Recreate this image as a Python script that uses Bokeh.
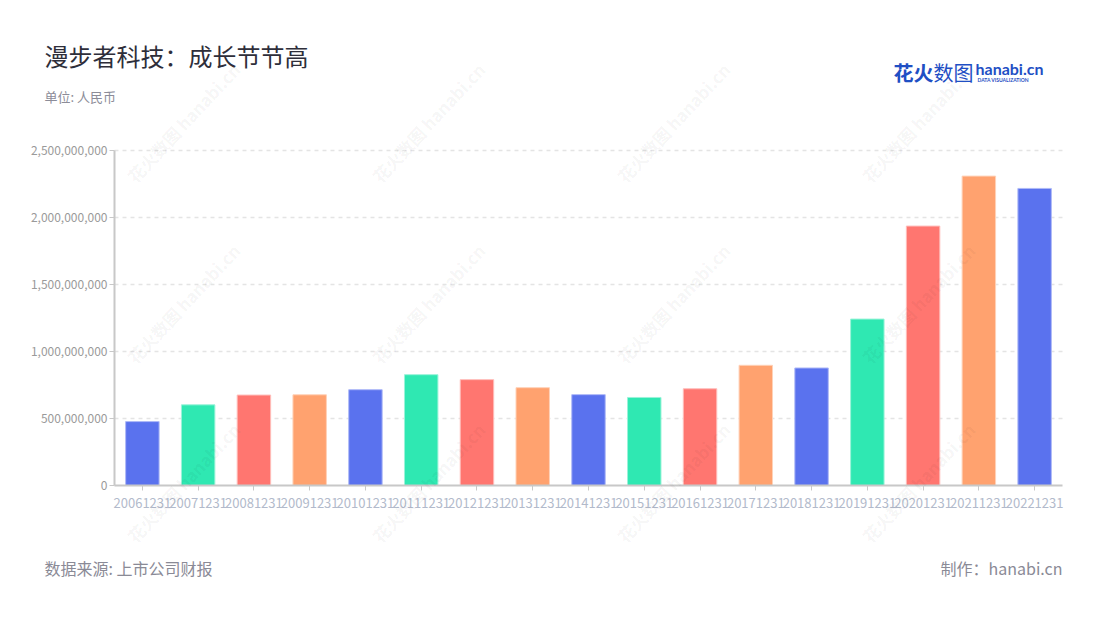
from bokeh.plotting import figure
from bokeh.models import Label, FixedTicker, NumeralTickFormatter, Range1d, ColumnDataSource
from bokeh.embed import file_html
from bokeh.resources import INLINE
import math

# ---- data ----
periods = ["20061231", "20071231", "20081231", "20091231", "20101231", "20111231",
           "20121231", "20131231", "20141231", "20151231", "20161231", "20171231",
           "20181231", "20191231", "20201231", "20211231", "20221231"]
revenue = [477e6, 602e6, 675e6, 677e6, 715e6, 827e6, 790e6, 730e6, 678e6, 657e6,
           722e6, 897e6, 877e6, 1242e6, 1936e6, 2309e6, 2217e6]
y_ticks = [0, 5e8, 1e9, 1.5e9, 2e9, 2.5e9]

title_text = "漫步者科技：成长节节高"
unit_text = "单位: 人民币"
source_text = "数据来源: 上市公司财报"
maker_text = "制作：hanabi.cn"

# ---- styles / layout ----
palette = ["#5A72EE", "#2FE8B2", "#FF7670", "#FFA26F"]
edge_palette = ["#AEB9F7", "#9AF3D9", "#FFBDBA", "#FFD2B8"]
FONT = "Noto Sans CJK SC"
W, H = 1084, 604
PLOT_L, PLOT_R, PLOT_T, PLOT_B = 114, 1062, 150, 485   # frame of the bar area in px

n = len(periods)
cw = (PLOT_R - PLOT_L) / n                 # px per category
y_max = y_ticks[-1]
spp = y_max / (PLOT_B - PLOT_T)            # value per px
x_start = -0.5 - PLOT_L / cw
x_end = n - 0.5 + (W - PLOT_R) / cw
y_start = -(H - PLOT_B) * spp
y_end = y_max + PLOT_T * spp

xs = list(range(n))
src = ColumnDataSource(dict(
    x=xs, y=revenue,
    fill=[palette[i % 4] for i in range(n)],
    edge=[edge_palette[i % 4] for i in range(n)],
))

p = figure(width=W, height=H, x_range=Range1d(x_start, x_end),
           y_range=Range1d(y_start, y_end),
           output_backend="svg", toolbar_location=None,
           min_border=0, min_border_left=0, min_border_right=0,
           min_border_top=0, min_border_bottom=0)
p.outline_line_color = None
p.background_fill_color = "white"
p.border_fill_color = "white"
p.xgrid.visible = False
p.ygrid.visible = False

# dashed grid lines at the y ticks
grid_y = y_ticks[1:]
p.segment(x0=[-0.5] * len(grid_y), x1=[n - 0.5] * len(grid_y), y0=grid_y, y1=grid_y,
          line_color="#E4E4E4", line_dash="4 4", line_width=1.5)

p.vbar(x="x", top="y", width=0.6, source=src, fill_color="fill",
       line_color="edge", line_width=1)

# axes
p.xaxis.fixed_location = 0
p.xaxis.bounds = (-0.5, n - 0.5)
p.xaxis.ticker = FixedTicker(ticks=xs)
p.xaxis.major_label_overrides = {i: periods[i] for i in xs}
p.yaxis.fixed_location = -0.5
p.yaxis.bounds = (0, y_max)
p.yaxis.ticker = FixedTicker(ticks=y_ticks)
p.yaxis.formatter = NumeralTickFormatter(format="0,0")

for ax in (p.xaxis[0], p.yaxis[0]):
    ax.axis_line_color = "#C8C8C8"
    ax.axis_line_width = 2
    ax.major_tick_line_color = "#C8C8C8"
    ax.major_tick_in = 0
    ax.major_tick_out = 5
    ax.minor_tick_line_color = None
    ax.major_label_text_font = FONT
p.yaxis.major_label_text_color = "#9A9A9A"
p.yaxis.major_label_text_font_size = "12px"
p.yaxis.major_label_standoff = 2
p.xaxis.major_label_text_color = "#B2BACB"
p.xaxis.major_label_text_font_size = "13px"
p.xaxis.major_label_standoff = 7

def lab(x, y, text, size, color, bold=False, align="left", baseline="middle",
        angle=0.0, alpha=1.0, font=FONT):
    p.add_layout(Label(x=x, y=y, x_units="canvas", y_units="canvas", text=text,
                       text_font=font, text_font_size=f"{size}px",
                       text_color=color, text_align=align, text_baseline=baseline,
                       text_font_style="bold" if bold else "normal",
                       angle=angle, text_alpha=alpha))

# watermarks
for cx in (183, 428, 673, 918):
    for cy in (122, 303, 482):
        lab(cx, cy, "花火数图 hanabi.cn", 17, "#000000", bold=True, align="center",
            angle=math.radians(47), alpha=0.05)

lab(44, 55, title_text, 24, "#2E2E3A")
lab(44, 96, unit_text, 13, "#8C8C98")
lab(44, 567, source_text, 16, "#8A8A96")
lab(1062, 567, maker_text, 16, "#8A8A96", align="right")
# logo
lab(893, 72, "花火", 20, "#1F4FC4", bold=True)
lab(933, 72, "数图", 20, "#1F4FC4")
lab(975, 68, "hanabi.cn", 16, "#1F4FC4", bold=True, font="Lato")
lab(977, 79, "DATA VISUALIZATION", 5, "#1F4FC4", bold=True, font="Lato")

open("out.html", "w").write(file_html(p, INLINE))
